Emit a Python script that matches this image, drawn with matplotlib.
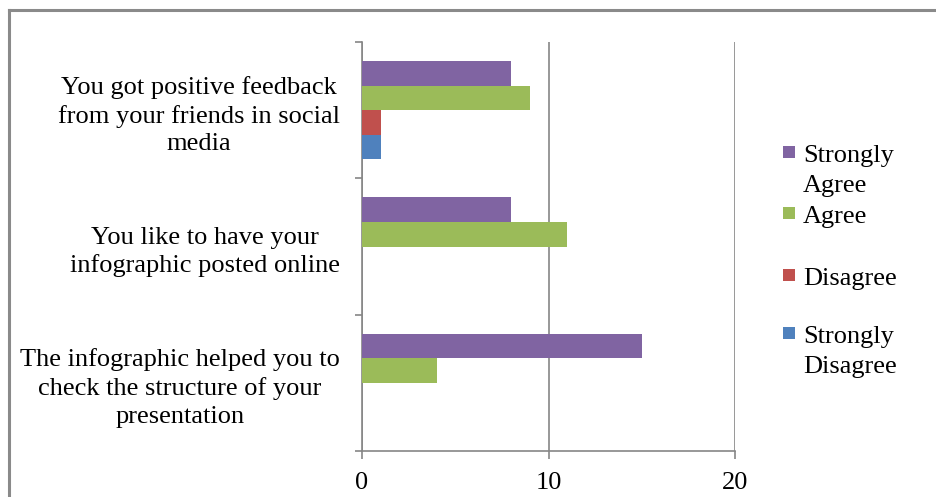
import matplotlib
matplotlib.use("Agg")
import matplotlib.pyplot as plt
from matplotlib.patches import Rectangle
from matplotlib.lines import Line2D
import numpy as np

plt.rcParams['font.family'] = ['Liberation Serif', 'DejaVu Serif']

# data (top category first)
questions = [
    "You got positive feedback\nfrom your friends in social\nmedia",
    "You like to have your\ninfographic posted online",
    "The infographic helped you to\ncheck the structure of your\npresentation",
]
series = ["Strongly\nAgree", "Agree", "Disagree", "Strongly\nDisagree"]
strongly_agree = [8, 8, 15]
agree = [9, 11, 4]
disagree = [1, 0, 0]
strongly_disagree = [1, 0, 0]
colors = ["#8064A2", "#9BBB59", "#C0504D", "#4F81BD"]

values = [strongly_agree, agree, disagree, strongly_disagree]
grey = "#868686"
fs = 19

fig = plt.figure(figsize=(9.37, 4.97), dpi=100)
ax = fig.add_axes([362 / 937, 1 - 451 / 497, (735 - 362) / 937, (451 - 42) / 497])

ypos = np.arange(len(questions))[::-1]  # top question at top
h = 0.18
offsets = [1.5, 0.5, -0.5, -1.5]
for vals, col, off in zip(values, colors, offsets):
    ax.barh(ypos + off * h, vals, height=h, color=col, edgecolor="none", zorder=3)

ax.set_xlim(0, 20)
ax.set_ylim(-0.5, 2.5)
ax.set_xticks([0, 10, 20])
ax.tick_params(axis="x", direction="out", length=6, width=1.2, color=grey,
               labelsize=fs, pad=9)
ax.grid(axis="x", color=grey, linewidth=1.2, zorder=0)

ax.set_yticks([-0.5, 0.5, 1.5, 2.5])
ax.set_yticklabels([])
ax.tick_params(axis="y", which="major", direction="out", length=5, width=1.2, color=grey)
ax.set_yticks(ypos, minor=True)
ax.set_yticklabels(questions, minor=True)
ax.tick_params(axis="y", which="minor", length=0, labelsize=fs, pad=16)
for t in ax.get_yticklabels(minor=True):
    t.set_multialignment("center")
    t.set_linespacing(1.33)

for s in ["top", "right"]:
    ax.spines[s].set_visible(False)
for s in ["left", "bottom"]:
    ax.spines[s].set_color(grey)
    ax.spines[s].set_linewidth(1.2)

# legend drawn by hand
baselines = [162, 223, 285, 343]
for lab, col, b in zip(series, colors, baselines):
    fig.patches.append(Rectangle((783 / 937, 1 - (b - 4) / 497), 12 / 937, 12 / 497,
                                 transform=fig.transFigure, facecolor=col,
                                 edgecolor="none"))
    fig.text(803 / 937, 1 - b / 497, lab.split("\n")[0], fontsize=fs, va="baseline")
    if "\n" in lab:
        fig.text(803 / 937, 1 - (b + 30) / 497, lab.split("\n")[1], fontsize=fs,
                 va="baseline")

# chart border (only top and left visible)
fig.add_artist(Line2D([9 / 937, 1], [1 - 10 / 497, 1 - 10 / 497],
                      transform=fig.transFigure, color="#8a8a8a", linewidth=2.2))
fig.add_artist(Line2D([9 / 937, 9 / 937], [0, 1 - 10 / 497],
                      transform=fig.transFigure, color="#8a8a8a", linewidth=2.2))

fig.savefig("out.png", dpi=100)
